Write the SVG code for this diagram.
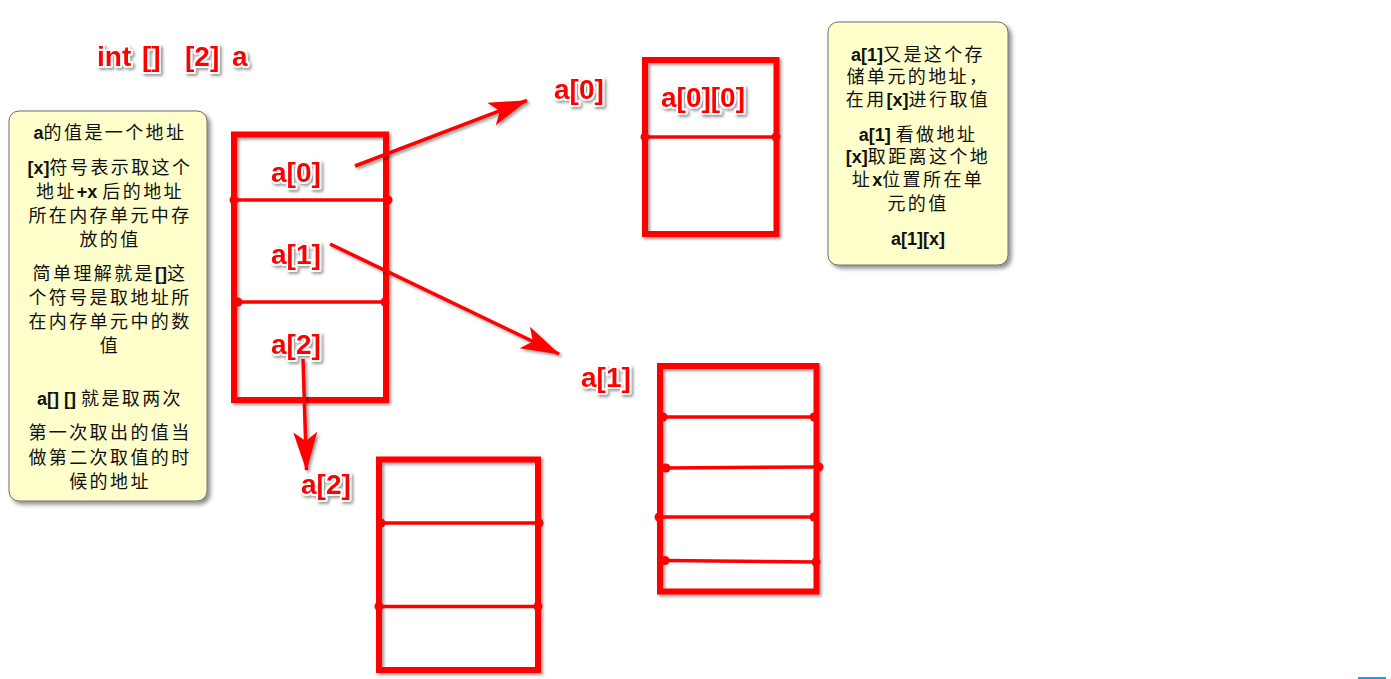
<svg xmlns="http://www.w3.org/2000/svg" width="1391" height="679" viewBox="0 0 1391 679">
<defs>
<filter id="sh" filterUnits="userSpaceOnUse" x="0" y="0" width="1391" height="679"><feDropShadow dx="2" dy="2" stdDeviation="1.5" flood-color="#000" flood-opacity="0.4"/></filter>
<filter id="nsh" filterUnits="userSpaceOnUse" x="0" y="0" width="1391" height="679"><feDropShadow dx="3" dy="3" stdDeviation="2" flood-color="#000" flood-opacity="0.45"/></filter>
<marker id="ah" markerUnits="userSpaceOnUse" viewBox="-42 -14 44 28" refX="0" refY="0" markerWidth="44" markerHeight="28" orient="auto" overflow="visible">
<path d="M1,0 L-38,-12 L-29,0 L-38,12 Z" fill="#ff0000"/>
</marker>
</defs>
<style>
.lbl{font-family:"Liberation Sans",Arial,sans-serif;font-weight:bold;font-size:28px;fill:#ff0000;stroke:#fff;stroke-width:4;stroke-linejoin:round;paint-order:stroke;filter:url(#sh)}
.box{fill:none;stroke:#ff0000;stroke-width:6;filter:url(#sh)}
.div{stroke:#ff0000;stroke-width:3.5;fill:none}
.dot{fill:#ff0000}
.note{fill:#ffffcc;stroke:#6e6e6e;stroke-width:1;filter:url(#nsh)}
.nt{font-family:"Noto Sans CJK SC","Liberation Sans",sans-serif;font-size:18px;letter-spacing:2.4px;fill:#111;text-anchor:middle}
.b{font-family:"Liberation Sans",Arial,sans-serif;font-weight:bold;letter-spacing:0}
.con{stroke:#ff0000;stroke-width:3.5;fill:none;marker-end:url(#ah);filter:url(#sh)}
</style>

<g id="title">
<text class="lbl" y="66"><tspan x="97">int</tspan><tspan x="142">[]</tspan><tspan x="185">[2]</tspan><tspan x="232">a</tspan></text>
</g>

<g id="note-left">
<rect class="note" x="9" y="111" width="198" height="390" rx="10"/>
<text class="nt" x="110" y="139"><tspan class="b">a</tspan>的值是一个地址</text>
<text class="nt" x="110" y="174"><tspan class="b">[x]</tspan>符号表示取这个</text>
<text class="nt" x="110" y="198">地址<tspan class="b">+x </tspan>后的地址</text>
<text class="nt" x="110" y="222">所在内存单元中存</text>
<text class="nt" x="110" y="246">放的值</text>
<text class="nt" x="110" y="280">简单理解就是<tspan class="b">[]</tspan>这</text>
<text class="nt" x="110" y="304">个符号是取地址所</text>
<text class="nt" x="110" y="328">在内存单元中的数</text>
<text class="nt" x="110" y="352">值</text>
<text class="nt" x="110" y="405"><tspan class="b">a[] [] </tspan>就是取两次</text>
<text class="nt" x="110" y="439">第一次取出的值当</text>
<text class="nt" x="110" y="464">做第二次取值的时</text>
<text class="nt" x="110" y="488">候的地址</text>
</g>

<g id="note-right">
<rect class="note" x="828" y="22" width="180" height="243" rx="10"/>
<text class="nt" x="918" y="61"><tspan class="b">a[1]</tspan>又是这个存</text>
<text class="nt" x="918" y="83">储单元的地址，</text>
<text class="nt" x="918" y="106">在用<tspan class="b">[x]</tspan>进行取值</text>
<text class="nt" x="918" y="141"><tspan class="b">a[1] </tspan>看做地址</text>
<text class="nt" x="918" y="163"><tspan class="b">[x]</tspan>取距离这个地</text>
<text class="nt" x="918" y="186">址<tspan class="b">x</tspan>位置所在单</text>
<text class="nt" x="918" y="210">元的值</text>
<text class="nt" x="918" y="245"><tspan class="b">a[1][x]</tspan></text>
</g>

<g id="array-a">
<rect class="box" x="234" y="134.5" width="152" height="265.5"/>
<line class="div" x1="234" y1="200" x2="388" y2="200"/>
<circle class="dot" cx="234" cy="200" r="4.5"/><circle class="dot" cx="388" cy="200" r="4.5"/>
<line class="div" x1="238" y1="302" x2="385" y2="302"/>
<circle class="dot" cx="238" cy="302" r="4.5"/><circle class="dot" cx="385" cy="302" r="4.5"/>
<text class="lbl" x="271" y="182">a[0]</text>
<text class="lbl" x="271" y="264">a[1]</text>
<text class="lbl" x="271" y="354">a[2]</text>
</g>

<g id="array-a0">
<rect class="box" x="645" y="60" width="131.5" height="174"/>
<line class="div" x1="645" y1="137" x2="776" y2="137"/>
<circle class="dot" cx="645" cy="137" r="4.5"/><circle class="dot" cx="776" cy="137" r="4.5"/>
<text class="lbl" x="661" y="107">a[0][0]</text>
</g>

<g id="array-a1">
<rect class="box" x="660" y="366" width="156.5" height="225.5"/>
<line class="div" x1="663" y1="417" x2="814" y2="417"/>
<circle class="dot" cx="663" cy="417" r="4.5"/><circle class="dot" cx="814" cy="417" r="4.5"/>
<line class="div" x1="666" y1="468" x2="819" y2="467"/>
<circle class="dot" cx="666" cy="468" r="4.5"/><circle class="dot" cx="819" cy="467" r="4.5"/>
<line class="div" x1="659" y1="517" x2="814" y2="517"/>
<circle class="dot" cx="659" cy="517" r="4.5"/><circle class="dot" cx="814" cy="517" r="4.5"/>
<line class="div" x1="665" y1="560.5" x2="816" y2="562"/>
<circle class="dot" cx="665" cy="560.5" r="4.5"/><circle class="dot" cx="816" cy="562" r="4.5"/>
</g>

<g id="array-a2">
<rect class="box" x="379" y="459.5" width="159" height="210.5"/>
<line class="div" x1="381" y1="523" x2="539" y2="523"/>
<circle class="dot" cx="381" cy="523" r="4.5"/><circle class="dot" cx="539" cy="523" r="4.5"/>
<line class="div" x1="379" y1="606.5" x2="538" y2="606.5"/>
<circle class="dot" cx="379" cy="606.5" r="4.5"/><circle class="dot" cx="538" cy="606.5" r="4.5"/>
</g>

<g id="labels">
<text class="lbl" x="554" y="99">a[0]</text>
<text class="lbl" x="581" y="387">a[1]</text>
<text class="lbl" x="301" y="494">a[2]</text>
</g>

<g id="connectors">
<line class="con" x1="355" y1="166" x2="527" y2="100.5"/>
<line class="con" x1="330" y1="244" x2="559" y2="354"/>
<line class="con" x1="303" y1="359" x2="306.5" y2="470"/>
</g>

<rect x="1358" y="677" width="28" height="2" fill="#1a9fe0"/>
</svg>
